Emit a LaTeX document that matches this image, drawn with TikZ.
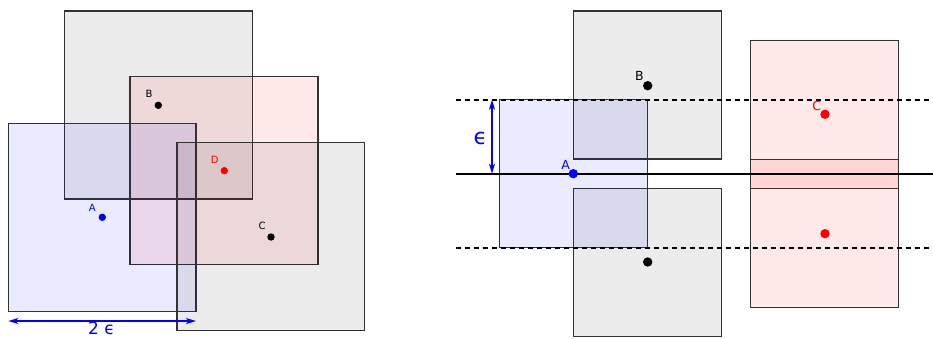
\documentclass[tikz,border=0pt]{standalone}
\usepackage{fontspec}
\setmainfont{DejaVu Sans}
\usetikzlibrary{arrows.meta}
\begin{document}
\begin{tikzpicture}[x=1pt,y=-1pt,
  sq/.style={draw=black!80, line width=1.1pt},
  grayfill/.style={sq, fill=black, fill opacity=0.075},
  pinkfill/.style={sq, fill=red, fill opacity=0.085},
  bluefill/.style={sq, fill=blue, fill opacity=0.08},
  dotS/.style={circle, inner sep=0pt, minimum size=7.4pt},
  dotL/.style={circle, inner sep=0pt, minimum size=9.4pt},
  lblS/.style={inner sep=0pt, font=\fontsize{10}{10}\selectfont},
  lblL/.style={inner sep=0pt, font=\fontsize{12.5}{12.5}\selectfont},
  dim/.style={draw=blue, line width=1.3pt, {Stealth[length=10pt,width=6pt,inset=2.5pt]}-{Stealth[length=10pt,width=6pt,inset=2.5pt]}},
  dashline/.style={draw=black, line width=1.8pt, dash pattern=on 5pt off 4pt},
  axis/.style={draw=black, line width=2pt}]
\useasboundingbox (0,0) rectangle (933,338);

% ---------- left panel ----------
\path[grayfill] (64.3,11) rectangle (252.3,199);
\path[pinkfill] (130,76.7) rectangle (318,264.7);
\path[bluefill] (8.3,123.7) rectangle (196,311.7);
\path[grayfill] (177,142.7) rectangle (364.7,330.3);

\node[dotS, fill=black] (B) at (158.3,105.3) {};
\node[dotS, fill=red] (D) at (224.3,170.7) {};
\node[dotS, fill=blue] (A) at (102.3,217.3) {};
\node[dotS, fill=black] (C) at (271,237) {};
\node[lblS, text=black] (lB) at (149,94) {B};
\node[lblS, text=red] (lD) at (214.7,160.3) {D};
\node[lblS, text=blue] (lA) at (92.3,207.7) {A};
\node[lblS, text=black] (lC) at (262,226.3) {C};

\coordinate (e1) at (8.3,321);
\coordinate (e2) at (196,321);
\draw[dim] (e1) -- (e2);
\node[inner sep=0pt, anchor=base, text=blue, font=\fontsize{17}{17}\selectfont] (l2e) at (101.5,334.5) {2 ϵ};

% ---------- right panel ----------
\path[grayfill] (573.3,11) rectangle (721.7,159);
\path[grayfill] (573.3,188.7) rectangle (721.7,336.7);
\path[bluefill] (499.3,99.7) rectangle (647.3,247.7);
\path[pinkfill] (750.7,40.3) rectangle (898.7,188.3);
\path[pinkfill] (750.7,159.7) rectangle (898.7,307.3);

\coordinate (d1a) at (455.7,99.7);
\coordinate (d1b) at (933,99.7);
\coordinate (d2a) at (455.7,247.7);
\coordinate (d2b) at (933,247.7);
\coordinate (s1) at (455.7,173.7);
\coordinate (s2) at (933,173.7);
\draw[dashline] (d1a) -- (d1b);
\draw[dashline] (d2a) -- (d2b);
\draw[axis] (s1) -- (s2);

\coordinate (f1) at (492,99.7);
\coordinate (f2) at (492,173.7);
\draw[dim] (f1) -- (f2);
\node[inner sep=0pt, text=blue, font=\fontsize{22}{22}\selectfont] (le) at (480.5,138) {ϵ};

\node[dotL, fill=blue] (A2) at (573.3,173.7) {};
\node[dotL, fill=black] (B2) at (647.7,85.7) {};
\node[dotL, fill=black] (B3) at (647.7,262) {};
\node[dotL, fill=red] (C2) at (825,114.3) {};
\node[dotL, fill=red] (C3) at (825,233.7) {};
\node[lblL, text=blue] (lA2) at (565.7,165) {A};
\node[lblL, text=black] (lB2) at (639.3,76.3) {B};
\node[lblL, text=red] (lC2) at (816.7,106) {C};
\end{tikzpicture}
\end{document}
